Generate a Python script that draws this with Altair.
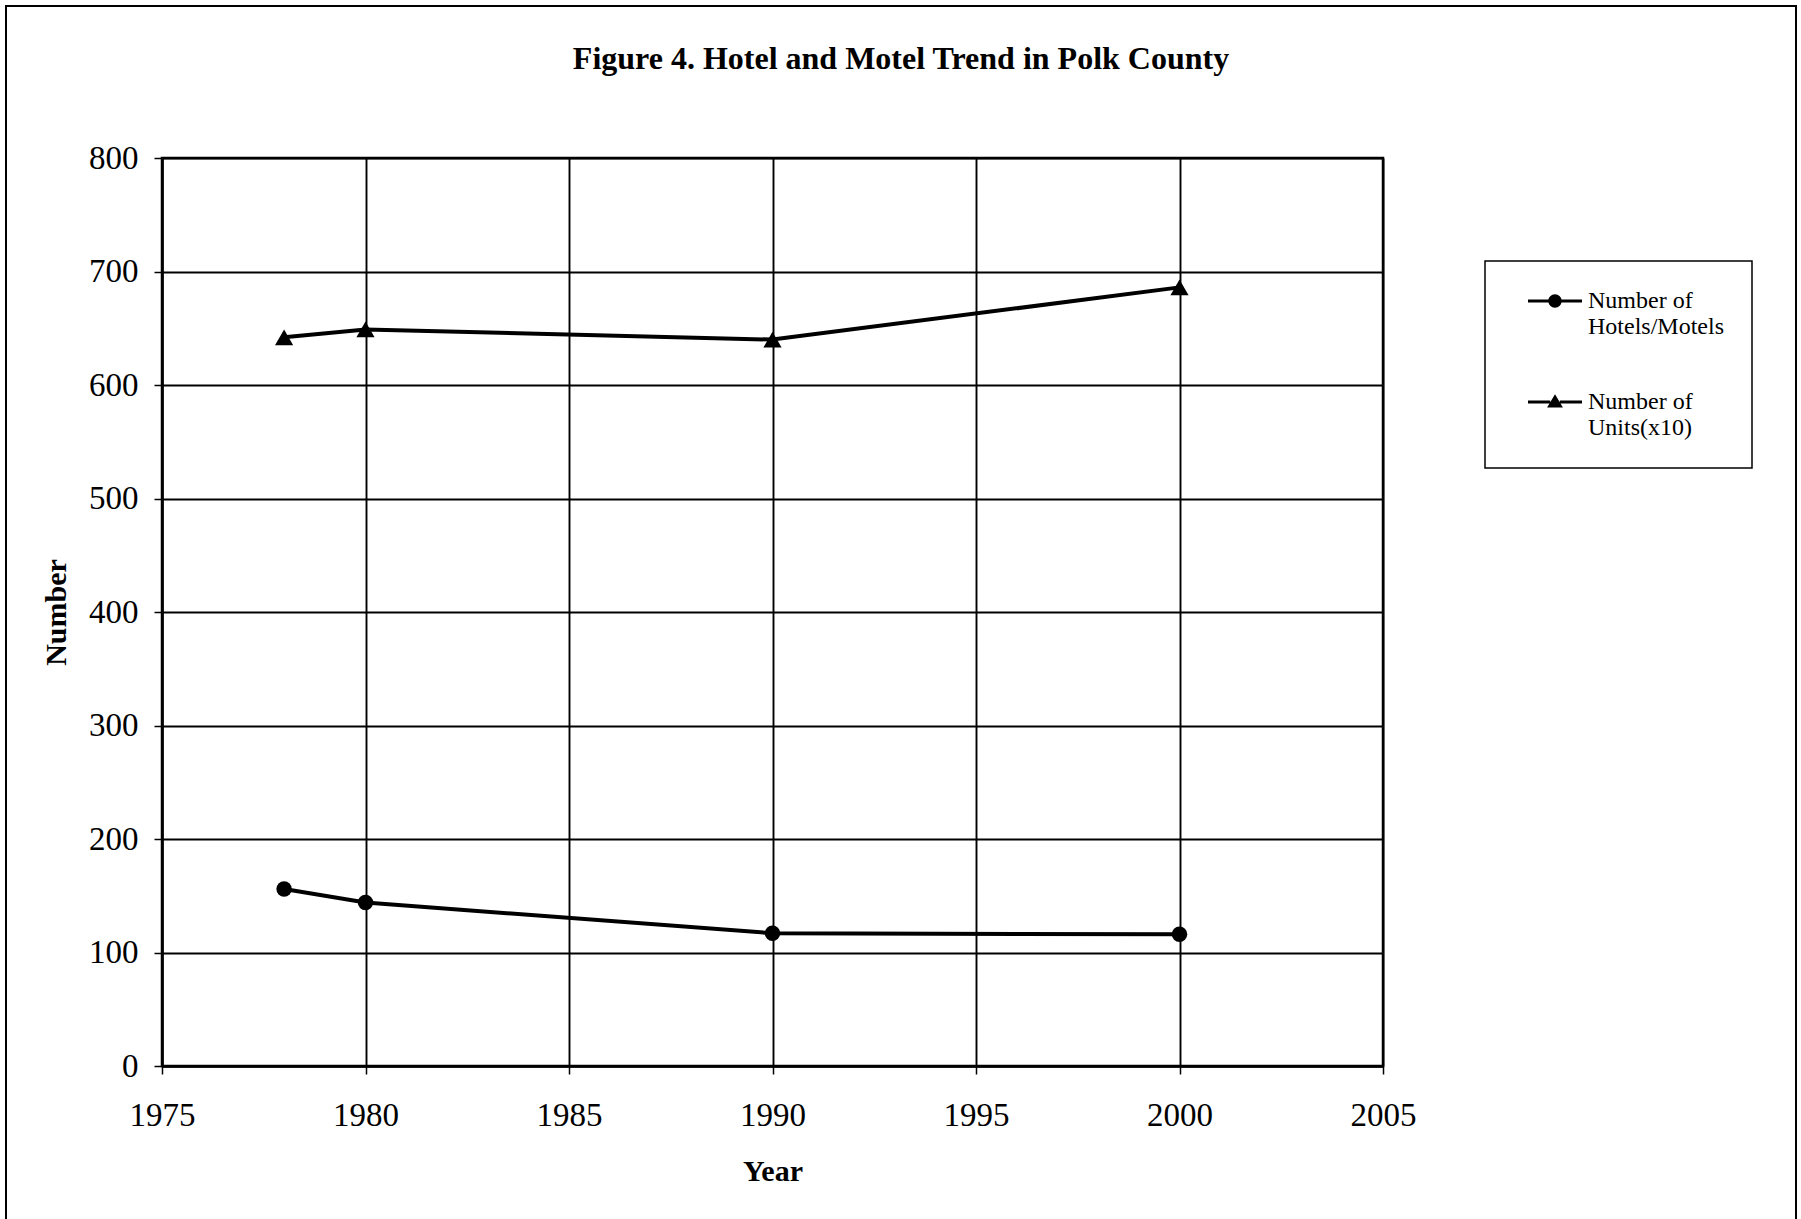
import altair as alt
import pandas as pd

# Survey years and the two series plotted against them
years = [1978, 1980, 1990, 2000]
hotels_motels = [156, 144, 117, 116]
units_x10 = [642, 649, 640, 686]
series_names = ["Number of Hotels/Motels", "Number of Units(x10)"]

x_ticks = [1975, 1980, 1985, 1990, 1995, 2000, 2005]
y_ticks = [0, 100, 200, 300, 400, 500, 600, 700, 800]

rows = []
for name, values in zip(series_names, [hotels_motels, units_x10]):
    for yr, v in zip(years, values):
        rows.append({"Year": yr, "Number": v, "Series": name})
df = pd.DataFrame(rows)

SERIF = "Liberation Serif"
W, H = 1221, 908

# Legend keys: a short line segment (drawn as two thin filled bars) with the
# series marker in the middle; units are half the symbol width (12 px).
KEY_CIRCLE = (
    "M-2.25,-0.12H-0.4V0.12H-2.25Z"
    "M0.4,-0.12H2.25V0.12H0.4Z"
    "M0.56,0A0.56,0.56,0,1,1,-0.56,0A0.56,0.56,0,1,1,0.56,0Z"
)
KEY_TRIANGLE = (
    "M-2.25,-0.12H-0.4V0.12H-2.25Z"
    "M0.4,-0.12H2.25V0.12H0.4Z"
    "M0,-0.64L0.66,0.46L-0.66,0.46Z"
)

x_enc = alt.X(
    "Year:Q",
    scale=alt.Scale(domain=[1975, 2005], nice=False, zero=False),
    axis=alt.Axis(values=x_ticks, format="d", title="Year", labelPadding=25,
                  titlePadding=24, labelFlush=False),
)
y_enc = alt.Y(
    "Number:Q",
    scale=alt.Scale(domain=[0, 800], nice=False),
    axis=alt.Axis(values=y_ticks, title="Number", labelPadding=16,
                  titlePadding=17, labelFlush=False),
)

lines = alt.Chart(df).mark_line(color="black", strokeWidth=4).encode(
    x=x_enc, y=y_enc, detail="Series:N"
)

points = alt.Chart(df).mark_point(filled=True, color="black", opacity=1).encode(
    x=x_enc,
    y=y_enc,
    shape=alt.Shape(
        "Series:N",
        scale=alt.Scale(domain=series_names, range=["circle", "triangle-up"]),
        legend=None,
    ),
    size=alt.Size(
        "Series:N",
        scale=alt.Scale(domain=series_names, range=[240, 330]),
        legend=None,
    ),
)

key = alt.Chart(df).transform_filter("false").mark_point(
    filled=True, fill="black", size=576, opacity=1
).encode(
    x=x_enc,
    y=y_enc,
    shape=alt.Shape(
        "Series:N",
        scale=alt.Scale(domain=series_names, range=[KEY_CIRCLE, KEY_TRIANGLE]),
        legend=alt.Legend(
            title=None,
            orient="none",
            legendX=1323,
            legendY=103,
            labelExpr="[slice(datum.label, 0, 9), slice(datum.label, 10)]",
        ),
    ),
)

frame = alt.Chart(alt.Data(values=[{}])).mark_rect(
    fillOpacity=0, stroke="black", strokeWidth=2
).encode(
    x=alt.value(-156), x2=alt.value(1634), y=alt.value(-152), y2=alt.value(1100)
)

chart = (
    alt.layer(lines, points, key, frame)
    .resolve_scale(shape="independent", size="independent")
    .properties(
        width=W,
        height=H,
        autosize=alt.AutoSizeParams(type="none"),
        padding={"left": 162, "top": 158, "right": 418, "bottom": 153},
        title=alt.TitleParams(
            "Figure 4.  Hotel and Motel Trend in Polk County",
            font=SERIF,
            fontSize=32,
            fontWeight="bold",
            color="black",
            anchor="middle",
            frame="bounds",
            offset=-71,
        ),
    )
    .configure_view(stroke="black", strokeWidth=2.5)
    .configure_axis(
        grid=True,
        gridColor="black",
        gridWidth=1.9,
        gridOpacity=1,
        domainColor="black",
        domainWidth=2.5,
        tickColor="black",
        tickSize=8,
        tickWidth=1.5,
        labelFont=SERIF,
        labelFontSize=33,
        labelColor="black",
        titleFont=SERIF,
        titleFontSize=30,
        titleFontWeight="bold",
        titleColor="black",
    )
    .configure_legend(
        strokeColor="black",
        strokeWidth=1.5,
        fillColor="white",
        padding=28,
        labelFont=SERIF,
        labelFontSize=24,
        labelColor="black",
        labelLimit=400,
        symbolSize=576,
        symbolFillColor="black",
        symbolStrokeWidth=0,
        symbolOffset=30,
        labelOffset=21,
        rowPadding=51,
    )
)

chart.save("out.html", embed_options={"renderer": "svg", "actions": False})
